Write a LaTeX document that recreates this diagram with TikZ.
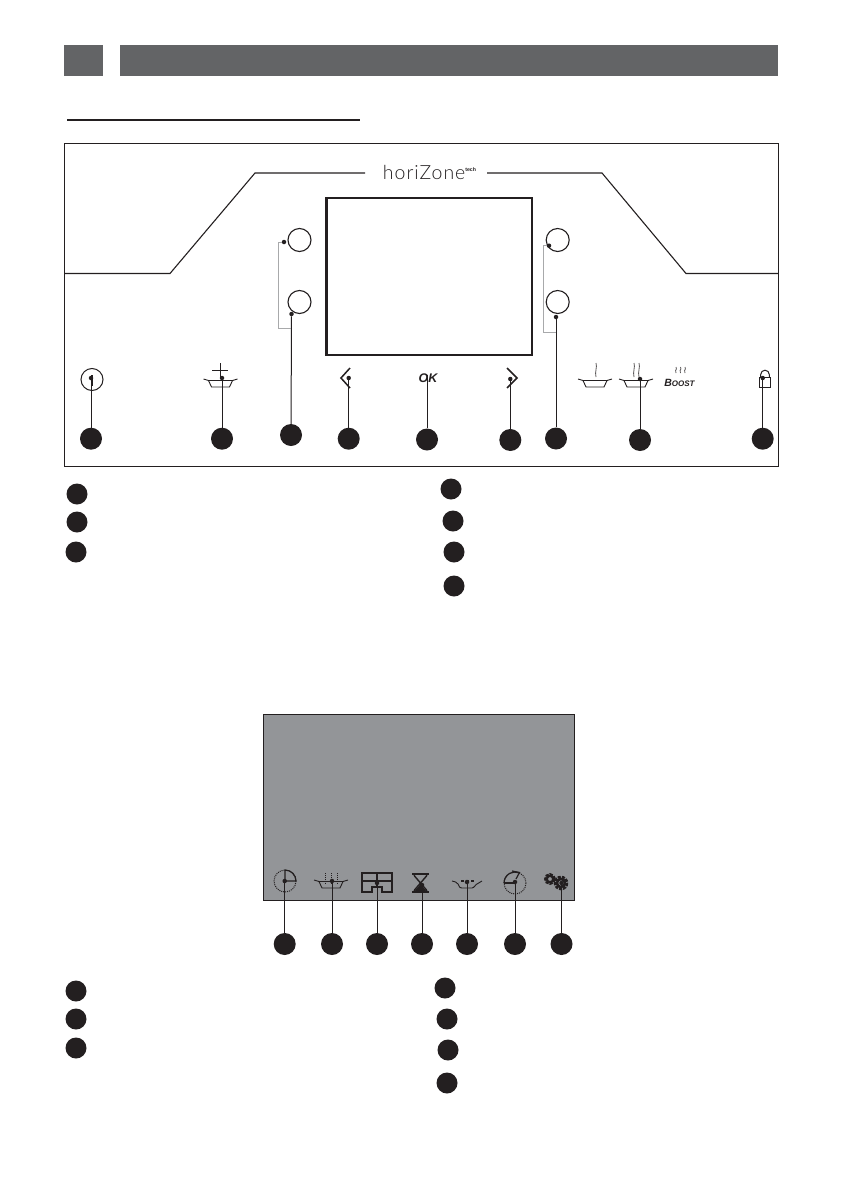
\documentclass[tikz,border=0pt]{standalone}
\usepackage{fontspec}
\setmainfont{Lato}
\newfontfamily\boostfont{Liberation Sans}
\newfontfamily\brandfont[UprightFont=* Light]{Lato}
\definecolor{headgrey}{HTML}{636466}
\definecolor{screengrey}{HTML}{939598}
\definecolor{ink}{HTML}{231F20}
\definecolor{brk}{HTML}{A8A9AB}
\tikzset{
  badge/.style={circle,fill=ink,draw=none,minimum size=22pt,inner sep=0pt},
  smallbadge/.style={circle,fill=ink,draw=none,minimum size=21pt,inner sep=0pt},
  pin/.style={circle,fill=ink,draw=none,minimum size=4.5pt,inner sep=0pt},
  leader/.style={draw=ink,line width=1pt},
  bracket/.style={draw=brk,line width=1pt},
  knob/.style={circle,draw=ink,line width=1.1pt,minimum size=23pt,inner sep=0pt,fill=white},
  icon/.style={draw=ink,line width=1pt},
  steam/.style={draw=ink!75,line width=.8pt},
  headbar/.style={fill=headgrey,draw=none},
}
\newcommand{\panshape}[2]{% centre x, rim y
  \draw[icon,line width=.9pt] (#1-17,#2-1) .. controls (#1-14,#2) .. (#1-12,#2+.5) -- (#1-9,#2+7) -- (#1+9,#2+7) -- (#1+12,#2+.5) .. controls (#1+14,#2) .. (#1+17,#2-1);
  \draw[icon,line width=.9pt] (#1-12,#2+.5) -- (#1+12,#2+.5);
}
\newcommand{\wisp}[3]{% x, top y, bottom y
  \draw[steam] (#1,#2) .. controls (#1+1.5,#2+4) and (#1-1.5,#3-5) .. (#1,#3);
}
\begin{document}
\begin{tikzpicture}[x=1pt,y=-1pt]
\useasboundingbox (0,0) rectangle (842,1191);
% header
\fill[headbar] (64,45) rectangle (103,76);
\fill[headbar] (120,45) rectangle (778,76);
\draw[ink,line width=2pt] (67,119.5) -- (360,119.5);
% panel
\draw[ink,line width=1pt] (64,143) rectangle (778,466);
\node[font=\fontsize{19.5}{19.5}\selectfont\brandfont,text=ink,inner sep=0pt] (brand) at (429.5,172) {\addfontfeatures{LetterSpace=5}horiZone\raisebox{7.5pt}{\fontsize{5.2}{5.2}\selectfont\boostfont\bfseries tech}};
\draw[ink,line width=1.1pt] (64,273.5) -- (170,273.5) -- (255,173) -- (365,173);
\draw[ink,line width=1.1pt] (487,173) -- (602,173) -- (686,273.5) -- (778,273.5);
\draw[ink,line width=2.4pt] (326.5,198) rectangle (532,355);
% knobs
\node[knob] (k1) at (299.5,240) {};
\node[knob] (k2) at (299.5,302) {};
\node[knob] (k3) at (557.7,240) {};
\node[knob] (k4) at (557.7,302) {};
% icons top
\draw[icon] (92,379.5) circle (11);
\draw[ink,line width=2pt] (91.5,375) -- (91.5,386);
\draw[icon] (212,370) -- (228,370);
\draw[icon] (220,363) -- (220,378);
\panshape{220.5}{380}
\draw[ink,line width=1.5pt] (350,368) -- (341,378) -- (350,388);
\draw[leader] (427,375) -- (427,428);
\node[font=\boostfont\bfseries\itshape\fontsize{12.5}{12.5}\selectfont,text=ink,inner sep=0pt] (ok) at (428,378) {OK};
\draw[ink,line width=1.5pt] (507,368) -- (517,378) -- (507,388);
\panshape{595}{380}
\wisp{596}{363}{377}
\panshape{636}{380}
\wisp{634}{363}{377}
\wisp{639}{363}{377}
\wisp{676}{367}{373}
\wisp{680.5}{367}{373}
\wisp{685}{367}{373}
\node[font=\boostfont\bfseries\itshape\fontsize{10.5}{10.5}\selectfont,text=ink,inner sep=0pt] (boost) at (679.5,383) {B{\fontsize{8}{8}\selectfont OOST}};
\draw[icon] (759.5,377) rectangle (770.5,387);
\draw[icon] (760.7,377) -- (760.7,374.5) arc (-180:0:4.3) -- (769.3,377);
% pins and badges top
\foreach \n/\x/\py/\by in {a/91/378/438.7,b/222/378/438.7,d/348.7/378/438.7,f/510.3/379/440,h/640/379/440,i/762.7/378/438.7}{
  \node[pin] (p\n) at (\x,\py) {};
  \node[badge] (b\n) at (\x,\by) {};
  \draw[leader] (p\n) -- (b\n);
}
\node[badge] (be) at (427,439.5) {};
\node[pin] (pc) at (291.5,314) {};
\node[badge] (bc) at (291,435) {};
\draw[leader] (pc) -- (bc);
\node[pin] (pg) at (556,317) {};
\node[badge] (bg) at (556,438.5) {};
\draw[leader] (pg) -- (bg);
\node[pin] (pc2) at (284,242) {};
\coordinate (cj) at (291,328.7);
\draw[bracket] (pc2) -| (278,328.7) -- (cj);
\node[pin] (pg2) at (549,245.7) {};
\coordinate (gj) at (556,332);
\draw[bracket] (pg2) -| (543,332) -- (gj);
% legend 1
\node[smallbadge] (l1) at (77,494) {};
\node[smallbadge] (l2) at (77,522) {};
\node[smallbadge] (l3) at (76,552) {};
\node[smallbadge] (l4) at (451,489) {};
\node[smallbadge] (l5) at (453,521) {};
\node[smallbadge] (l6) at (454,552) {};
\node[smallbadge] (l7) at (454,586) {};
% screen
\fill[screengrey] (263.5,714.5) rectangle (574.5,900.5);
\draw[ink,line width=1pt] (263.5,714.5) rectangle (574.5,900.5);
% clock
\draw[icon,densely dotted] (285,881) circle (11);
\draw[ink,line width=1.2pt] (285,881) -- (285,870) arc (-90:0:11) -- cycle;
% pan with dashes
\panshape{331}{881}
\foreach \x in {325,331,337}{\draw[icon,line width=.9pt,densely dotted] (\x,873) -- (\x,884);}
% map
\draw[ink,line width=2pt,line join=miter] (371.7,892.3) -- (362.3,892.3) -- (362.3,873.3) -- (391.7,873.3) -- (391.7,892.3) -- (382.3,892.3) -- (382.3,886.7) -- (371.7,886.7) -- cycle;
\draw[ink,line width=2pt] (362.3,880.7) -- (391.7,880.7) (377,873.3) -- (377,886.7);
% hourglass
\draw[ink,line width=2pt] (412.3,873.5) -- (429,873.5) (412.3,892) -- (429,892);
\draw[ink,line width=1.4pt] (414,874) -- (414.5,876) -- (426.5,890) -- (427,892) (427,874) -- (426.5,876) -- (414.5,890) -- (414,892);
\fill[ink] (420.5,884) -- (427,892) -- (414,892) -- cycle;
% pan w/ dots
\draw[icon,line width=.9pt] (452,881) .. controls (456,882) .. (458,884) .. controls (460,888) .. (462,888) -- (472,888) .. controls (474,888) and (476,884) .. (477,884) .. controls (479,882) .. (482,881);
\draw[ink,line width=1.6pt] (461,881) -- (464,881) (466,881) -- (469,881) (471,881) -- (474,881);
% timer
\draw[icon,densely dotted] (515,883) circle (11);
\draw[ink,line width=1.2pt] (504,883) arc (-180:-70:11);
\draw[ink,line width=1.2pt] (504,883) -- (515,883);
\draw[ink,line width=1.2pt] (512,871) -- (519.5,872.5) -- (516,879);
% gears
\draw[ink,line width=2.2pt] (550,879) circle (3.2);
\draw[ink,line width=3pt,densely dotted] (550,879) circle (4.4);
\draw[ink,line width=2.4pt] (561,883) circle (4);
\draw[ink,line width=3pt,densely dotted] (561,883) circle (5.8);
% pins and badges bottom
\foreach \n/\px/\py/\bx in {s/284.7/881/284.7,t/332/881/332,u/377/883/377,v/422/885/422,w/467/882/467,x/515/882/515,y/561.5/883/561.5}{
  \node[pin] (p\n) at (\px,\py) {};
  \node[badge] (b\n) at (\bx,944) {};
  \draw[leader] (p\n) -- (b\n);
}
% legend 2
\node[smallbadge] (m1) at (76,991) {};
\node[smallbadge] (m2) at (76,1019) {};
\node[smallbadge] (m3) at (76,1048) {};
\node[smallbadge] (m4) at (445,988) {};
\node[smallbadge] (m5) at (447,1019) {};
\node[smallbadge] (m6) at (448,1050) {};
\node[smallbadge] (m7) at (447,1083) {};
\end{tikzpicture}
\end{document}
